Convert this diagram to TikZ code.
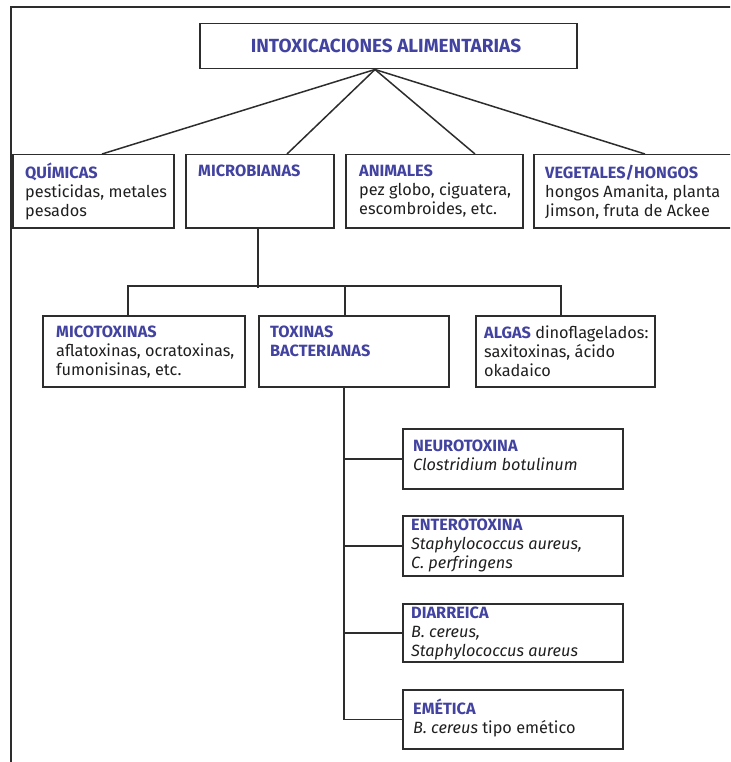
\documentclass[tikz,border=0pt]{standalone}
\usepackage{fontspec}
\setmainfont{Fira Sans}
\usetikzlibrary{calc}
\definecolor{hdblue}{RGB}{66,66,160}
\definecolor{ln}{RGB}{45,45,45}
\newcommand\hdr[1]{\textcolor{hdblue}{\textbf{#1}}}
\begin{document}
\begin{tikzpicture}[x=1pt,y=-1pt,
  box/.style={draw=ln, line width=1.5pt, rectangle, inner sep=0pt, anchor=north west},
  txt/.style={anchor=north west, inner sep=0pt, align=left, font=\fontsize{16.3}{19}\selectfont, text=black!88},
  conn/.style={draw=ln, line width=1.5pt}]
\useasboundingbox (0,0) rectangle (730,762);
\clip (0,0) rectangle (730,762);
% outer frame
\draw[ln, line width=1.5pt] (732,7) -- (11,7) -- (11,764);
% title
\node[box, minimum width=377pt, minimum height=45pt] (title) at (199,23) {};
\node[font=\bfseries\fontsize{19}{22}\selectfont, text=hdblue] (titletxt) at (386,46) {INTOXICACIONES ALIMENTARIAS};
\coordinate (apex) at ($(title.south west)+(176,0)$);
% level 2
\node[box, minimum width=161pt, minimum height=73pt] (q) at (12,154) {};
\node[box, minimum width=148pt, minimum height=73pt] (mi) at (185,154) {};
\node[box, minimum width=177pt, minimum height=73pt] (an) at (345,154) {};
\node[box, minimum width=220pt, minimum height=73pt] (ve) at (533,154) {};
\node[txt] (qt) at ($(q.north west)+(13,9)$) {\hdr{QUÍMICAS}\\pesticidas, metales\\pesados};
\node[txt] (mit) at ($(mi.north west)+(13,11)$) {\hdr{MICROBIANAS}};
\node[txt] (ant) at ($(an.north west)+(14,11)$) {\hdr{ANIMALES}\\pez globo, ciguatera,\\escombroides, etc.};
\node[txt] (vet) at ($(ve.north west)+(12,11)$) {\hdr{VEGETALES/HONGOS}\\hongos Amanita, planta\\Jimson, fruta de Ackee};
\draw[conn] (apex) -- ($(q.north west)+(90,0)$);
\draw[conn] (apex) -- ($(mi.north west)+(102,0)$);
\draw[conn] (apex) -- ($(an.north west)+(130,0)$);
\draw[conn] (apex) -- ($(ve.north west)+(112,0)$);
% level 3
\node[box, minimum width=202pt, minimum height=71pt] (mc) at (42,315) {};
\node[box, minimum width=190pt, minimum height=71pt] (tb) at (258,315) {};
\node[box, minimum width=179pt, minimum height=71pt] (al) at (475,315) {};
\node[txt] (mct) at ($(mc.north west)+(14,11)$) {\hdr{MICOTOXINAS}\\aflatoxinas, ocratoxinas,\\fumonisinas, etc.};
\node[txt] (tbt) at ($(tb.north west)+(12,11)$) {\hdr{TOXINAS}\\\hdr{BACTERIANAS}};
\node[txt] (alt) at ($(al.north west)+(9,11)$) {\hdr{ALGAS} dinoflagelados:\\saxitoxinas, ácido\\okadaico};
\coordinate (busL) at ($(mc.north west)+(86,-29)$);
\coordinate (busR) at ($(al.north west)+(86,-29)$);
\draw[conn] ($(mi.south west)+(73,0)$) -- ($(mi.south west)+(73,59)$);
\draw[conn] ($(mc.north west)+(86,0)$) -- (busL) -- (busR) -- ($(al.north west)+(86,0)$);
\draw[conn] ($(tb.north west)+(87,0)$) -- ($(tb.north west)+(87,-29)$);
% level 4
\node[box, minimum width=220pt, minimum height=60pt] (nt) at (402,428) {};
\node[box, minimum width=220pt, minimum height=60pt] (et) at (402,515) {};
\node[box, minimum width=220pt, minimum height=58pt] (di) at (402,603) {};
\node[box, minimum width=220pt, minimum height=59pt] (em) at (402,689) {};
\node[txt] (ntt) at ($(nt.north west)+(11,12)$) {\hdr{NEUROTOXINA}\\\textit{Clostridium botulinum}};
\node[txt] (ett) at ($(et.north west)+(9,4)$) {\hdr{ENTEROTOXINA}\\\textit{Staphylococcus aureus,}\\\textit{C. perfringens}};
\node[txt] (dit) at ($(di.north west)+(9,4)$) {\hdr{DIARREICA}\\\textit{B. cereus,}\\\textit{Staphylococcus aureus}};
\node[txt] (emt) at ($(em.north west)+(11,10)$) {\hdr{EMÉTICA}\\\textit{B. cereus} tipo emético};
\coordinate (trunk) at ($(tb.south west)+(86,0)$);
\draw[conn] (trunk) |- (em.west);
\draw[conn] (nt.west) -- (nt.west -| trunk);
\draw[conn] (et.west) -- (et.west -| trunk);
\draw[conn] (di.west) -- (di.west -| trunk);
\end{tikzpicture}
\end{document}
